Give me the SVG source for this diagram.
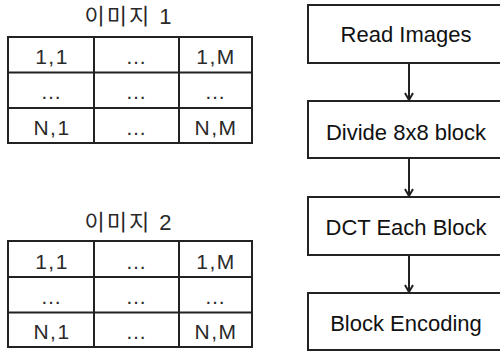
<svg xmlns="http://www.w3.org/2000/svg" width="500" height="353" viewBox="0 0 500 353">
  <style>
    .grid { fill: none; stroke: #222; stroke-width: 2; }
    .cell { font-family: "Liberation Sans", Arial, sans-serif; font-size: 21px; letter-spacing: 1.5px; fill: #2a2a2a; text-anchor: middle; }
    .dots { font-family: "Liberation Sans", Arial, sans-serif; font-size: 21px; fill: #2a2a2a; text-anchor: middle; }
    .title { font-family: "Liberation Sans", "Noto Sans CJK KR", sans-serif; font-size: 22px; letter-spacing: 2px; fill: #2a2a2a; text-anchor: middle; }
    .box { fill: #fff; stroke: #222; stroke-width: 2; }
    .label { font-family: "Liberation Sans", Arial, sans-serif; font-size: 22px; fill: #111; text-anchor: middle; }
    .conn { stroke: #222; stroke-width: 2; fill: none; marker-end: url(#arrow); }
  </style>
  <defs>
    <marker id="arrow" markerWidth="10" markerHeight="10" refX="8" refY="5" orient="auto" markerUnits="userSpaceOnUse">
      <path d="M1,1 L8,5 L1,9" fill="none" stroke="#222" stroke-width="2"/>
    </marker>
  </defs>
  <rect width="500" height="353" fill="#fff"/>

  <!-- image 1 matrix -->
  <g id="image1">
    <text class="title" x="129" y="24">이미지 1</text>
    <rect class="grid" x="8" y="37" width="244" height="106"/>
    <line class="grid" x1="94" y1="37" x2="94" y2="143"/>
    <line class="grid" x1="179" y1="37" x2="179" y2="143"/>
    <line class="grid" x1="8" y1="72.5" x2="252" y2="72.5"/>
    <line class="grid" x1="8" y1="108" x2="252" y2="108"/>
    <text class="cell" x="52" y="64">1,1</text>
    <text class="dots" x="136" y="64">…</text>
    <text class="cell" x="216" y="64">1,M</text>
    <text class="dots" x="51" y="99">…</text>
    <text class="dots" x="136" y="99">…</text>
    <text class="dots" x="215" y="99">…</text>
    <text class="cell" x="52" y="135">N,1</text>
    <text class="dots" x="136" y="135">…</text>
    <text class="cell" x="216" y="135">N,M</text>
  </g>

  <!-- image 2 matrix -->
  <g id="image2">
    <text class="title" x="129" y="230">이미지 2</text>
    <rect class="grid" x="8" y="241" width="244" height="106"/>
    <line class="grid" x1="94" y1="241" x2="94" y2="347"/>
    <line class="grid" x1="179" y1="241" x2="179" y2="347"/>
    <line class="grid" x1="8" y1="277" x2="252" y2="277"/>
    <line class="grid" x1="8" y1="312.5" x2="252" y2="312.5"/>
    <text class="cell" x="52" y="269">1,1</text>
    <text class="dots" x="136" y="269">…</text>
    <text class="cell" x="216" y="269">1,M</text>
    <text class="dots" x="51" y="304">…</text>
    <text class="dots" x="136" y="304">…</text>
    <text class="dots" x="215" y="304">…</text>
    <text class="cell" x="52" y="339">N,1</text>
    <text class="dots" x="136" y="339">…</text>
    <text class="cell" x="216" y="339">N,M</text>
  </g>

  <!-- processing steps -->
  <g id="read">
    <rect class="box" x="308" y="5" width="204" height="58"/>
    <text class="label" x="406" y="42">Read Images</text>
  </g>
  <g id="divide">
    <rect class="box" x="308" y="101" width="204" height="57"/>
    <text class="label" x="406" y="140">Divide 8x8 block</text>
  </g>
  <g id="dct">
    <rect class="box" x="308" y="197" width="204" height="58"/>
    <text class="label" x="406" y="235">DCT Each Block</text>
  </g>
  <g id="encode">
    <rect class="box" x="308" y="293" width="204" height="57"/>
    <text class="label" x="406" y="331">Block Encoding</text>
  </g>

  <g id="connectors">
    <line class="conn" x1="409" y1="63" x2="409" y2="100"/>
    <line class="conn" x1="409" y1="158" x2="409" y2="196"/>
    <line class="conn" x1="409" y1="255" x2="409" y2="292"/>
  </g>
</svg>
